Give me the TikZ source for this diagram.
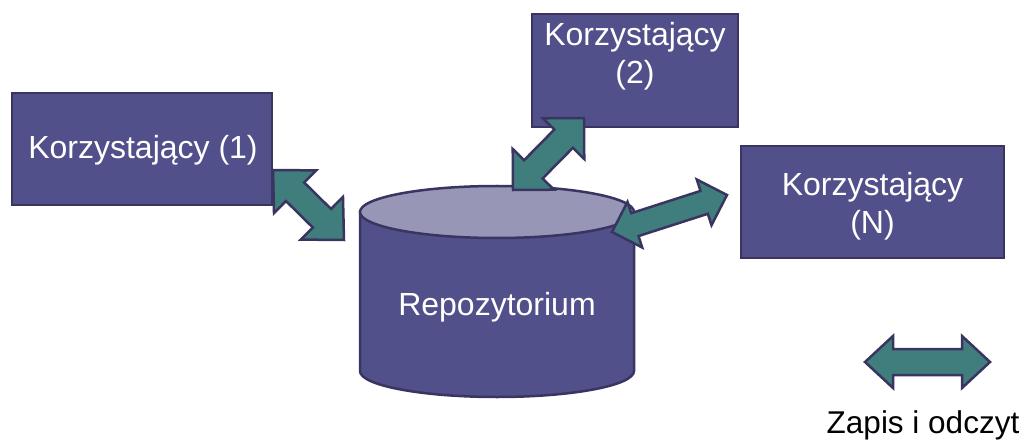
\documentclass[tikz,border=0pt]{standalone}
\usepackage{fontspec}
\setmainfont{Liberation Sans}
\definecolor{boxfill}{RGB}{82,80,138}
\definecolor{edgecol}{RGB}{58,52,96}
\definecolor{topfill}{RGB}{152,150,182}
\definecolor{arrfill}{RGB}{64,126,126}
\tikzset{
  userbox/.style={draw=edgecol, fill=boxfill, line width=2.5pt, inner sep=0pt},
  boxtext/.style={text=white, align=center, inner sep=0pt, font=\fontsize{32}{38}\selectfont},
  blockarr/.style={draw=edgecol, fill=arrfill, line width=2.5pt, line join=miter},
  cylside/.style={draw=edgecol, fill=boxfill, line width=2.5pt},
  cyltop/.style={draw=edgecol, fill=topfill, line width=2.5pt},
}
\newcommand\blockarrow[5]{%
  \path (#1); \pgfgetlastxy{\ax}{\ay}%
  \path (#2); \pgfgetlastxy{\bx}{\by}%
  \pgfmathsetmacro\ang{atan2(\by-\ay,\bx-\ax)}%
  \pgfmathsetmacro\len{veclen(\bx-\ax,\by-\ay)}%
  \pgfmathsetmacro\mm{\len-#3}%
  \begin{scope}[shift={(#1)},rotate=\ang]
    \draw[blockarr] (0pt,0pt) -- (#3pt,#4pt) -- (#3pt,#5pt) -- (\mm pt,#5pt) -- (\mm pt,#4pt)
      -- (\len pt,0pt) -- (\mm pt,-#4pt) -- (\mm pt,-#5pt) -- (#3pt,-#5pt) -- (#3pt,-#4pt) -- cycle;
  \end{scope}}
\begin{document}
\begin{tikzpicture}[x=1pt,y=-1pt]
\useasboundingbox (0,0) rectangle (1024,446);
% cylinder
\draw[cylside] (360,212) -- (360,371) arc[start angle=180,end angle=360,x radius=137pt,y radius=26pt] -- (634,212) -- cycle;
\draw[cyltop] (497,212) ellipse[x radius=137pt, y radius=26pt];
\node[boxtext] (repo) at (497,307) {Repozytorium};
% users
\node[userbox, minimum width=260pt, minimum height=112pt] (K1) at (142,149) {};
\node[boxtext] (K1t) at (143,150) {Korzystający (1)};
\node[userbox, minimum width=206pt, minimum height=113pt] (K2) at (635,70.5) {};
\node[boxtext] (K2t) at (635,56) {Korzystający\\(2)};
\node[userbox, minimum width=263pt, minimum height=112pt] (KN) at (872.5,202) {};
\node[boxtext] (KNt) at (872.5,206) {Korzystający\\(N)};
% arrow end points
\coordinate (a1s) at (273,170);
\coordinate (a1e) at (344,240);
\coordinate (a2s) at (513,190);
\coordinate (a2e) at (584,118);
\coordinate (a3s) at (612,232);
\coordinate (a3e) at (727,195);
\coordinate (lgs) at (865,362);
\coordinate (lge) at (990,362);
\blockarrow{a1s}{a1e}{31}{30}{13}
\blockarrow{a2s}{a2e}{29}{29}{13}
\blockarrow{a3s}{a3e}{24}{24}{12}
\blockarrow{lgs}{lge}{28}{26}{13}
\node[inner sep=0pt, font=\fontsize{31.5}{38}\selectfont] (legend) at (923,425) {Zapis i odczyt};
\end{tikzpicture}
\end{document}
